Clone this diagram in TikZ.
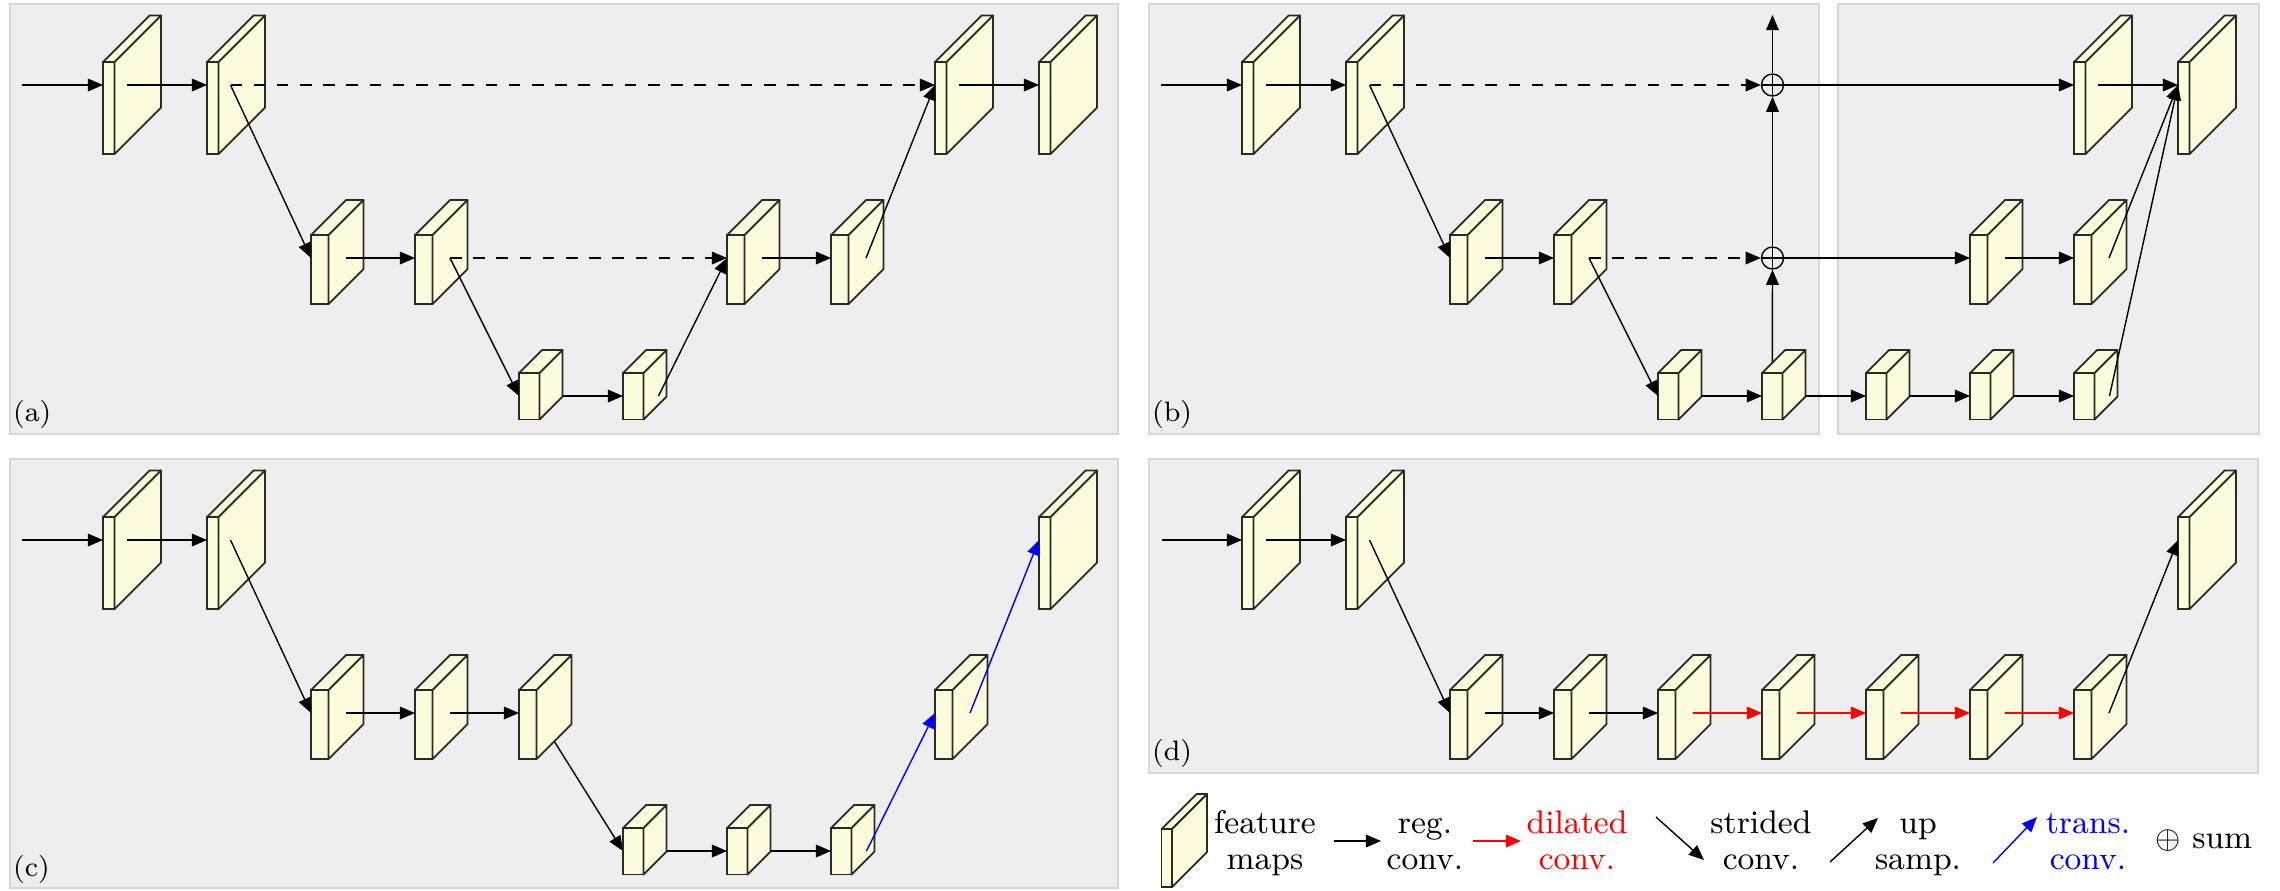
\documentclass[tikz,border=0pt]{standalone}
\usetikzlibrary{arrows.meta,calc}
\pgfdeclarelayer{panels}
\pgfdeclarelayer{under}
\pgfsetlayers{panels,under,main}

\definecolor{panelbg}{HTML}{EEEEEE}
\definecolor{panelrule}{HTML}{D6D6D6}
\definecolor{fmfill}{HTML}{FCFCDC}
\definecolor{fmline}{HTML}{2A2A22}

% feature-map block: name, x of front face, y of front top, kind
\newcommand\fmap[4]{%
  \ifcase#4\relax
  \or\def\fmW{11.5}\def\fmH{92}\def\fmD{46.5}\def\fmS{12}%
  \or\def\fmW{17.5}\def\fmH{69}\def\fmD{35}\def\fmS{17.5}%
  \or\def\fmW{20.5}\def\fmH{46.5}\def\fmD{23}\def\fmS{15}%
  \or\def\fmW{10.5}\def\fmH{58}\def\fmD{35}\def\fmS{0}%
  \fi
  \node[fmface, minimum width=\fmW*0.1mm, minimum height=\fmH*0.1mm] (#1) at (#2,#3) {};
  \filldraw[fmbox] (#1.north west) -- ++(\fmD,-\fmD) -- ++(\fmW,0) -- (#1.north east) -- cycle;
  \filldraw[fmbox] (#1.north east) -- ++(\fmD,-\fmD) -- ++(0,\fmH) -- (#1.south east) -- cycle;
  \coordinate (#1i) at ($(#1.north west)+(0,23)$);
  \coordinate (#1o) at ($(#1.north east)+(\fmS,23)$);
  \coordinate (#1e) at ($(#1.north east)+(\fmD,23)$);
  \coordinate (#1f) at ($(#1.north east)+(0,23)$);
}

\begin{document}
\begin{tikzpicture}[x=0.1mm, y=-0.1mm,
  >={Triangle[length=4.3pt,width=3.6pt]},
  panel/.style={fill=panelbg, draw=panelrule, line width=0.4pt},
  fmface/.style={draw=fmline, fill=fmfill, line width=0.5pt, rectangle,
    inner sep=0pt, outer sep=0pt, anchor=north west},
  fmbox/.style={draw=fmline, fill=fmfill, line width=0.5pt, line join=round},
  conn/.style={->, line width=0.4pt, black},
  skip/.style={conn, dash pattern=on 3.3pt off 3.3pt},
  dil/.style={conn, red},
  tconv/.style={conn, blue},
  sumnode/.style={circle, draw, line width=0.4pt, minimum size=2.2mm, inner sep=0pt,
    path picture={\draw[line width=0.4pt]
      (path picture bounding box.north) -- (path picture bounding box.south)
      (path picture bounding box.west) -- (path picture bounding box.east);}},
  tag/.style={font=\fontsize{8}{9.6}\selectfont, inner sep=0pt, anchor=base west},
  legtext/.style={font=\fontsize{9.3}{10.3}\selectfont, align=center, inner sep=0pt}
]
\useasboundingbox (0,0) rectangle (2280,890);

% ---------- page and panels ----------
\begin{pgfonlayer}{panels}
  \fill[white] (0,0) rectangle (2280,890);
  \draw[panel] (10,4) rectangle (1118,434);
  \draw[panel] (1149,4) rectangle (1819,434);
  \draw[panel] (1838,4) rectangle (2259,434);
  \draw[panel] (10,459) rectangle (1118,888);
  \draw[panel] (1149,459) rectangle (2258,773);
\end{pgfonlayer}

\node[tag] (la) at (12.5,421) {(a)};
\node[tag] (lb) at (1151.5,421) {(b)};
\node[tag] (lc) at (12.5,876) {(c)};
\node[tag] (ld) at (1151.5,760) {(d)};

% ---------- (a) encoder-decoder with skips ----------
\fmap{a1}{103}{62}{1}  \fmap{a2}{207}{62}{1}
\fmap{a3}{311}{235}{2} \fmap{a4}{415}{235}{2}
\fmap{a5}{519}{373}{3} \fmap{a6}{623}{373}{3}
\fmap{a7}{727}{235}{2} \fmap{a8}{831}{235}{2}
\fmap{a9}{935}{62}{1}  \fmap{a10}{1039}{62}{1}
\coordinate (ina) at (22,85);

\draw[conn] (ina) -- (a1i);
\draw[conn] (a1o) -- (a2i);
\draw[skip] (a2o) -- (a9i);
\draw[conn] (a2o) -- (a3i);
\draw[conn] (a3o) -- (a4i);
\draw[skip] (a4o) -- (a7i);
\draw[conn] (a4o) -- (a5i);
\draw[conn] (a5e) -- (a6i);
\draw[conn] (a6o) -- (a7i);
\draw[conn] (a7o) -- (a8i);
\draw[conn] (a8o) -- (a9i);
\draw[conn] (a9o) -- (a10i);

% ---------- (b) pyramid with sums ----------
\fmap{b1}{1242}{62}{1}  \fmap{b2}{1346}{62}{1}
\fmap{b3}{1450}{235}{2} \fmap{b4}{1554}{235}{2}
\fmap{b5}{1658}{373}{3} \fmap{b6}{1762}{373}{3}
\fmap{b7}{1866}{373}{3} \fmap{b8}{1970}{373}{3} \fmap{b9}{2074}{373}{3}
\fmap{b10}{1970}{235}{2} \fmap{b11}{2074}{235}{2}
\fmap{b12}{2074}{62}{1} \fmap{b13}{2178}{62}{1}
\node[sumnode] (s1) at (1772.5,85) {};
\node[sumnode] (s2) at (1772.5,258) {};
\coordinate (inb) at (1161,85);
\coordinate (btop) at (1772.5,15);

\draw[conn] (inb) -- (b1i);
\draw[conn] (b1o) -- (b2i);
\draw[skip] (b2o) -- (s1);
\draw[conn] (b2o) -- (b3i);
\draw[conn] (b3o) -- (b4i);
\draw[skip] (b4o) -- (s2);
\draw[conn] (b4o) -- (b5i);
\draw[conn] (b5e) -- (b6i);
\draw[conn] (b6e) -- (b7i);
\begin{pgfonlayer}{under}
  \draw[conn] (b6.center) -- (s2);
\end{pgfonlayer}
\draw[conn] (s2) -- (s1);
\draw[conn] (s1) -- (btop);
\draw[conn] (s1) -- (b12i);
\draw[conn] (s2) -- (b10i);
\draw[conn] (b12o) -- (b13i);
\draw[conn] (b10o) -- (b11i);
\draw[conn] (b11o) -- (b13i);
\draw[conn] (b7e) -- (b8i);
\draw[conn] (b8e) -- (b9i);
\draw[conn] (b9o) -- (b13i);

% ---------- (c) transposed convolutions ----------
\fmap{c1}{103}{517}{1}  \fmap{c2}{207}{517}{1}
\fmap{c3}{311}{690}{2}  \fmap{c4}{415}{690}{2} \fmap{c5}{519}{690}{2}
\fmap{c6}{623}{828}{3}  \fmap{c7}{727}{828}{3} \fmap{c8}{831}{828}{3}
\fmap{c9}{935}{690}{2}  \fmap{c10}{1039}{517}{1}
\coordinate (inc) at (22,540);

\draw[conn] (inc) -- (c1i);
\draw[conn] (c1o) -- (c2i);
\draw[conn] (c2o) -- (c3i);
\draw[conn] (c3o) -- (c4i);
\draw[conn] (c4o) -- (c5i);
\begin{pgfonlayer}{under}
  \draw[conn] (c5f) -- (c6i);
\end{pgfonlayer}
\draw[conn] (c6e) -- (c7i);
\draw[conn] (c7e) -- (c8i);
\draw[tconv] (c8o) -- (c9i);
\draw[tconv] (c9o) -- (c10i);

% ---------- (d) dilated convolutions ----------
\fmap{d1}{1242}{517}{1} \fmap{d2}{1346}{517}{1}
\fmap{d3}{1450}{690}{2} \fmap{d4}{1554}{690}{2} \fmap{d5}{1658}{690}{2}
\fmap{d6}{1762}{690}{2} \fmap{d7}{1866}{690}{2} \fmap{d8}{1970}{690}{2}
\fmap{d9}{2074}{690}{2}
\fmap{d10}{2178}{517}{1}
\coordinate (ind) at (1162,540);

\draw[conn] (ind) -- (d1i);
\draw[conn] (d1o) -- (d2i);
\draw[conn] (d2o) -- (d3i);
\draw[conn] (d3o) -- (d4i);
\draw[conn] (d4o) -- (d5i);
\draw[dil] (d5o) -- (d6i);
\draw[dil] (d6o) -- (d7i);
\draw[dil] (d7o) -- (d8i);
\draw[dil] (d8o) -- (d9i);
\draw[conn] (d9o) -- (d10i);

% ---------- legend ----------
\fmap{lg}{1161.5}{829}{4}
\node[legtext, anchor=north] (lt1) at (1265,807.5) {\strut feature\\maps};
\coordinate (lr0) at (1334,841); \coordinate (lr1) at (1381,841);
\draw[conn] (lr0) -- (lr1);
\node[legtext, anchor=north] (lt2) at (1425,807.5) {\strut reg.\\conv.};
\coordinate (ld0) at (1473,841); \coordinate (ld1) at (1521,841);
\draw[dil] (ld0) -- (ld1);
\node[legtext, anchor=north, text=red] (lt3) at (1577,807.5) {\strut dilated\\conv.};
\coordinate (ls0) at (1656,817); \coordinate (ls1) at (1704,860);
\draw[conn] (ls0) -- (ls1);
\node[legtext, anchor=north] (lt4) at (1761,807.5) {\strut strided\\conv.};
\coordinate (lu0) at (1830,862); \coordinate (lu1) at (1878,818);
\draw[conn] (lu0) -- (lu1);
\node[legtext, anchor=north] (lt5) at (1918,807.5) {\strut up\\samp.};
\coordinate (lb0) at (1993,863); \coordinate (lb1) at (2037,817);
\draw[tconv] (lb0) -- (lb1);
\node[legtext, anchor=north, text=blue] (lt6) at (2088,807.5) {\strut trans.\\conv.};
\node[legtext] (lt7) at (2204,841) {$\oplus$ sum};
\end{tikzpicture}
\end{document}
